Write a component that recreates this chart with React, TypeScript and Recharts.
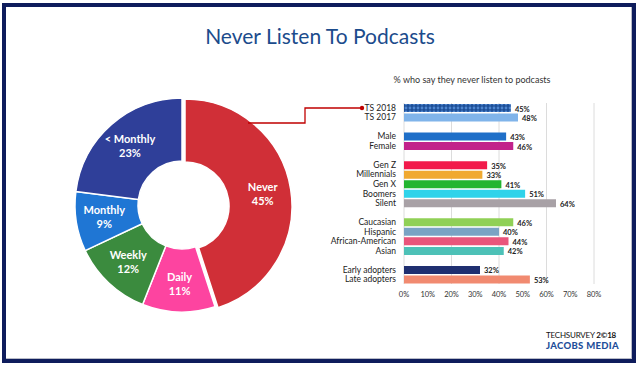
import React from 'react';
import { PieChart, Pie, Cell, BarChart, Bar, XAxis, YAxis, CartesianGrid, LabelList } from 'recharts';

// donut: how often people listen to podcasts
const freqNames = ['Never', 'Daily', 'Weekly', 'Monthly', '< Monthly'];
const freqValues = [45, 11, 12, 9, 23];
const freqColors = ['#d02f37', '#fd44a0', '#3b8b3e', '#1f76d4', '#2f3f99'];

// bars: % who never listen, by group (blank rows separate the groups)
const groupNames = [
  'TS 2018', 'TS 2017', '',
  'Male', 'Female', ' ',
  'Gen Z', 'Millennials', 'Gen X', 'Boomers', 'Silent', '  ',
  'Caucasian', 'Hispanic', 'African-American', 'Asian', '   ',
  'Early adopters', 'Late adopters',
];
const groupValues = [45, 48, null, 43, 46, null, 35, 33, 41, 51, 64, null, 46, 40, 44, 42, null, 32, 53];
const groupColors = [
  'url(#ts2018)', '#80b4ea', 'none',
  '#1f6fc8', '#c2228b', 'none',
  '#f21a4b', '#f0a930', '#22b530', '#2fd3ea', '#a8a1a6', 'none',
  '#90d056', '#7aa3c4', '#e9557b', '#4dc1b7', 'none',
  '#1f2f70', '#f18a70',
];
const pctTicks = [0, 10, 20, 30, 40, 50, 60, 70, 80];

const font = 'Lato, "Open Sans", sans-serif';
const RADIAN = Math.PI / 180;

const pieData = freqNames.map((name, i) => ({ name, value: freqValues[i] }));
const barData = groupNames.map((name, i) => ({ name, value: groupValues[i] }));

function sliceLabel(show: (i: number) => boolean) {
  return (props: any) => {
    const { cx, cy, midAngle, innerRadius, outerRadius, index, name, value } = props;
    if (!show(index)) return null;
    const r = innerRadius + (outerRadius - innerRadius) * 0.55;
    const x = cx + r * Math.cos(-midAngle * RADIAN);
    const y = cy + r * Math.sin(-midAngle * RADIAN);
    return (
      <text x={x} y={y} textAnchor="middle" fill="#fff" fontFamily={font} fontWeight={700} fontSize={11}>
        <tspan x={x} dy={-3}>{name}</tspan>
        <tspan x={x} dy={14}>{value}%</tspan>
      </text>
    );
  };
}

function ValueLabel(props: any) {
  const { x, y, width, height, value } = props;
  if (value == null) return null;
  return (
    <text x={x + width + 4} y={y + height / 2 + 3.5} fill="#222" fontFamily={font} fontWeight={700} fontSize={7.5}>
      {value}%
    </text>
  );
}

const noMargin = { top: 0, right: 0, bottom: 0, left: 0 };

export default function App() {
  return (
    <div style={{ position: 'absolute', left: 0, top: 0, width: 640, height: 373, background: '#fff', fontFamily: font, overflow: 'hidden' }}>
      <div style={{ position: 'absolute', left: 2, top: 3, width: 634, height: 360, boxSizing: 'border-box', border: '4px solid #0e1c5c', boxShadow: 'inset -1px -1px 0 #b9bcc8' }} />

      <div style={{ position: 'absolute', left: 0, top: 23, width: 640, textAlign: 'center', fontSize: 21, color: '#1b4b8c' }}>
        Never Listen To Podcasts
      </div>

      <div style={{ position: 'absolute', left: 372, top: 74, width: 200, textAlign: 'center', fontSize: 9, color: '#333', whiteSpace: 'nowrap' }}>
        % who say they never listen to podcasts
      </div>

      <div style={{ position: 'absolute', left: 0, top: 0 }}>
        <PieChart width={370} height={373} margin={noMargin}>
          <Pie
            data={pieData}
            dataKey="value"
            nameKey="name"
            cx={182}
            cy={205}
            innerRadius={44}
            outerRadius={107}
            startAngle={90}
            endAngle={-270}
            stroke="#fff"
            strokeWidth={1.5}
            labelLine={false}
            label={sliceLabel((i) => i !== 0)}
            isAnimationActive={false}
          >
            {pieData.map((d, i) => (
              <Cell key={d.name} fill={i === 0 ? 'none' : freqColors[i]} stroke={i === 0 ? 'none' : '#fff'} />
            ))}
          </Pie>
          <Pie
            data={pieData}
            dataKey="value"
            nameKey="name"
            cx={185}
            cy={206}
            innerRadius={44}
            outerRadius={107}
            startAngle={90}
            endAngle={-270}
            stroke="#fff"
            strokeWidth={1.5}
            labelLine={false}
            label={sliceLabel((i) => i === 0)}
            isAnimationActive={false}
          >
            {pieData.map((d, i) => (
              <Cell key={d.name} fill={i === 0 ? freqColors[i] : 'none'} stroke={i === 0 ? '#fff' : 'none'} />
            ))}
          </Pie>
        </PieChart>
      </div>

      <div style={{ position: 'absolute', left: 300, top: 90 }}>
        <BarChart
          width={320}
          height={220}
          data={barData}
          layout="vertical"
          margin={{ top: 13, right: 26, bottom: 6, left: 0 }}
          barSize={8}
        >
          <defs>
            <pattern id="ts2018" width="4" height="4" patternUnits="userSpaceOnUse">
              <rect width="4" height="4" fill="#1d4f98" />
              <circle cx="2" cy="2" r="1.4" fill="#4f86cf" />
            </pattern>
          </defs>
          <CartesianGrid horizontal={false} stroke="#dcdcdc" />
          <XAxis
            type="number"
            domain={[0, 80]}
            ticks={pctTicks}
            tickFormatter={(v: number) => `${v}%`}
            axisLine={false}
            tickLine={false}
            height={20}
            tick={{ fontSize: 7.5, fill: '#333', fontFamily: font }}
          />
          <YAxis
            type="category"
            dataKey="name"
            width={104}
            axisLine={false}
            tickLine={false}
            interval={0}
            tick={{ fontSize: 8.5, fill: '#222', fontFamily: font }}
          />
          <Bar dataKey="value" isAnimationActive={false}>
            {barData.map((d, i) => (
              <Cell key={i} fill={groupColors[i]} />
            ))}
            <LabelList dataKey="value" content={ValueLabel} />
          </Bar>
        </BarChart>
      </div>

      <svg width={640} height={373} style={{ position: 'absolute', left: 0, top: 0, pointerEvents: 'none' }}>
        <path d="M248 123 H305 V108 H362" fill="none" stroke="#c00000" strokeWidth={1.3} />
        <circle cx={362} cy={108} r={2.2} fill="#c00000" />
      </svg>

      <div style={{ position: 'absolute', left: 546, top: 331, lineHeight: '9.5px', whiteSpace: 'nowrap' }}>
        <div style={{ fontSize: 8, color: '#111', letterSpacing: -0.2 }}>
          TECHSURVEY <b>2©18</b>
        </div>
        <div style={{ fontSize: 9.5, fontWeight: 900, color: '#1f4f9a', letterSpacing: 0.3 }}>JACOBS MEDIA</div>
      </div>
    </div>
  );
}
